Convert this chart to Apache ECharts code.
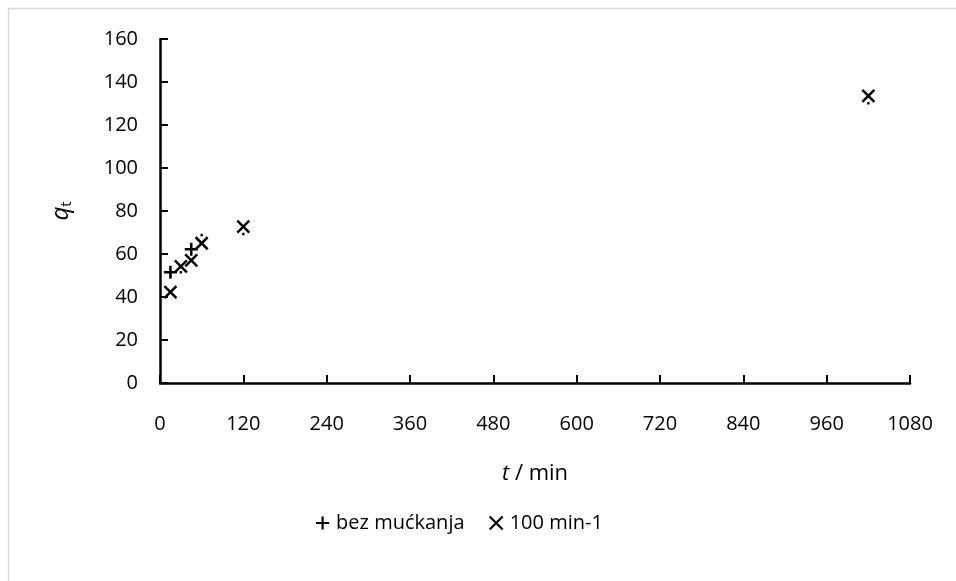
<!DOCTYPE html>
<html><head><meta charset="utf-8">
<script src="https://cdn.jsdelivr.net/npm/echarts@6/dist/echarts.min.js"></script>
<style>html,body{margin:0;padding:0;background:#fff}#c{width:956px;height:581px}</style>
</head><body><div id="c"></div>
<script>
const xTicks = [0,120,240,360,480,600,720,840,960,1080];
const plusT = [15, 45];
const plusQ = [51.5, 62.2];
const crossT = [15, 30, 45, 60, 120, 1020];
const crossQ = [42.3, 54.2, 57.0, 65.0, 72.7, 133.5];
const dotT = [15, 30, 60, 120, 1020];
const dotQ = [49.8, 51.5, 68.8, 69.3, 130.1];

const zip = (a,b)=>a.map((v,i)=>[v,b[i]]);
const PLUS = 'path://M0,-10 L0,10 M-10,0 L10,0';
const CROSS = 'path://M-10,-10 L10,10 M-10,10 L10,-10';
const font = 'Open Sans';
const chart = echarts.init(document.getElementById('c'));
chart.setOption({
  animation:false,
  textStyle:{fontFamily:font},
  graphic:[{type:'rect',shape:{x:8.5,y:8.5,width:1000,height:1000},style:{fill:'none',stroke:'#d9d9d9',lineWidth:1.5},silent:true}],
  grid:{left:160,right:46,top:39,bottom:198},
  legend:{bottom:43,left:310,itemGap:24,itemWidth:13,itemHeight:13,
    textStyle:{fontSize:20,color:'#000',fontFamily:font,padding:[0,0,0,2]},
    data:[{name:'bez mućkanja',icon:PLUS,itemStyle:{color:'transparent',borderColor:'#000',borderWidth:2.2}},
          {name:'100 min-1',icon:CROSS,itemStyle:{color:'transparent',borderColor:'#000',borderWidth:2.2}}]},
  xAxis:{type:'value',min:0,max:1080,interval:120,
    name:'{i|t} / min',nameLocation:'middle',nameGap:80,
    nameTextStyle:{fontSize:22,color:'#000',rich:{i:{fontStyle:'italic',fontSize:22,fontFamily:font}}},
    axisLine:{lineStyle:{color:'#000',width:2.5}},
    axisTick:{show:true,length:-8,lineStyle:{color:'#000',width:2}},
    axisLabel:{fontSize:20,color:'#000',margin:31,formatter:v=>xTicks.includes(v)?String(v):''},
    splitLine:{show:false}},
  yAxis:{type:'value',min:0,max:160,interval:20,
    name:'{i|q}{s|t}',nameLocation:'middle',nameGap:86,nameRotate:90,
    nameTextStyle:{fontSize:22,color:'#000',rich:{i:{fontStyle:'italic',fontSize:24,fontFamily:font},s:{fontSize:15,verticalAlign:'bottom',padding:[10,0,0,0]}}},
    axisLine:{show:true,lineStyle:{color:'#000',width:2.5}},
    axisTick:{show:true,length:-8,lineStyle:{color:'#000',width:2}},
    axisLabel:{fontSize:20,color:'#000',margin:22},
    splitLine:{show:false}},
  series:[
    {name:'bez mućkanja',type:'scatter',symbol:PLUS,symbolSize:13,data:zip(plusT,plusQ),
     itemStyle:{color:'transparent',borderColor:'#000',borderWidth:2.5,opacity:1}},
    {name:'100 min-1',type:'scatter',symbol:CROSS,symbolSize:12,data:zip(crossT,crossQ),
     itemStyle:{color:'transparent',borderColor:'#000',borderWidth:2.5,opacity:1}},
    {name:'dots',type:'scatter',symbol:'rect',symbolSize:2.5,data:zip(dotT,dotQ),
     itemStyle:{color:'#111',opacity:1}}
  ]
});
</script></body></html>
